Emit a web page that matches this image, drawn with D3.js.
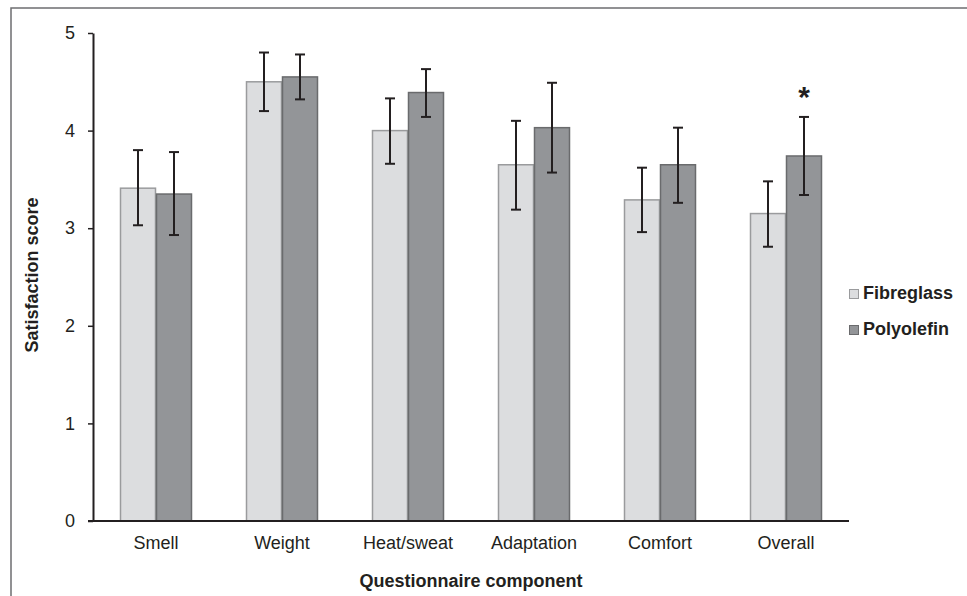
<!DOCTYPE html>
<html>
<head>
<meta charset="utf-8">
<script src="https://cdn.jsdelivr.net/npm/d3@7"></script>
<style>
  html, body { margin: 0; padding: 0; background: #fff; }
  svg { display: block; font-family: "Liberation Sans", Arial, sans-serif; }
</style>
</head>
<body>
<svg id="chart" width="967" height="596"></svg>
<script>
const categories = ["Smell", "Weight", "Heat/sweat", "Adaptation", "Comfort", "Overall"];
const seriesNames = ["Fibreglass", "Polyolefin"];
const fibreglassMean = [3.41, 4.50, 4.00, 3.65, 3.29, 3.15];
const fibreglassLow  = [3.03, 4.20, 3.66, 3.19, 2.96, 2.81];
const fibreglassHigh = [3.80, 4.80, 4.33, 4.10, 3.62, 3.48];
const polyolefinMean = [3.35, 4.55, 4.39, 4.03, 3.65, 3.74];
const polyolefinLow  = [2.93, 4.32, 4.14, 3.57, 3.26, 3.34];
const polyolefinHigh = [3.78, 4.78, 4.63, 4.49, 4.03, 4.14];
const yTicks = [0, 1, 2, 3, 4, 5];
const significant = ["Overall"];

const fills = { Fibreglass: "#dcdddf", Polyolefin: "#939598" };
const strokes = { Fibreglass: "#9a9b9d", Polyolefin: "#6a6b6d" };

const svg = d3.select("#chart");
const plotLeft = 93, plotRight = 849, plotTop = 33, plotBottom = 521;
const FONT = "Liberation Sans, Arial, sans-serif";

// frame
svg.append("rect").attr("x", 11).attr("y", 8).attr("width", 1000).attr("height", 1000)
  .attr("fill", "none").attr("stroke", "#6d6e70").attr("stroke-width", 1.5);

const x0 = d3.scaleBand().domain(categories).range([plotLeft, plotRight])
  .paddingInner(3/7).paddingOuter(3/14);
const x1 = d3.scaleBand().domain(seriesNames).range([0, x0.bandwidth()]);
const y = d3.scaleLinear().domain([0, 5]).range([plotBottom, plotTop]);

const rows = categories.map((c, i) => ({
  cat: c,
  items: [
    { s: "Fibreglass", v: fibreglassMean[i], lo: fibreglassLow[i], hi: fibreglassHigh[i] },
    { s: "Polyolefin", v: polyolefinMean[i], lo: polyolefinLow[i], hi: polyolefinHigh[i] }
  ]
}));

const g = svg.append("g");
const groups = g.selectAll("g.cat").data(rows).join("g")
  .attr("transform", d => `translate(${x0(d.cat)},0)`);

groups.selectAll("rect").data(d => d.items).join("rect")
  .attr("x", d => x1(d.s) + 0.5)
  .attr("y", d => y(d.v))
  .attr("width", x1.bandwidth() - 1)
  .attr("height", d => y(0) - y(d.v))
  .attr("fill", d => fills[d.s])
  .attr("stroke", d => strokes[d.s])
  .attr("stroke-width", 1.5);

const eb = groups.selectAll("g.err").data(d => d.items).join("g")
  .attr("stroke", "#231f20").attr("stroke-width", 2);
eb.append("line")
  .attr("x1", d => x1(d.s) + x1.bandwidth() / 2)
  .attr("x2", d => x1(d.s) + x1.bandwidth() / 2)
  .attr("y1", d => y(d.lo)).attr("y2", d => y(d.hi));
eb.append("line")
  .attr("x1", d => x1(d.s) + x1.bandwidth() / 2 - 5)
  .attr("x2", d => x1(d.s) + x1.bandwidth() / 2 + 5)
  .attr("y1", d => y(d.hi)).attr("y2", d => y(d.hi));
eb.append("line")
  .attr("x1", d => x1(d.s) + x1.bandwidth() / 2 - 5)
  .attr("x2", d => x1(d.s) + x1.bandwidth() / 2 + 5)
  .attr("y1", d => y(d.lo)).attr("y2", d => y(d.lo));

// significance asterisk
rows.filter(r => significant.includes(r.cat)).forEach(r => {
  const it = r.items[1];
  g.append("text")
    .attr("x", x0(r.cat) + x1(it.s) + x1.bandwidth() / 2)
    .attr("y", y(it.hi) - 10)
    .attr("text-anchor", "middle")
    .attr("font-size", 30).attr("font-weight", "bold").attr("fill", "#231f20")
    .attr("font-family", FONT)
    .text("*");
});

// y axis
const yAxis = svg.append("g").attr("transform", `translate(${plotLeft},0)`)
  .call(d3.axisLeft(y).tickValues(yTicks).tickFormat(d3.format("d")).tickSize(5).tickSizeOuter(0).tickPadding(13));
yAxis.select(".domain").attr("stroke", "#231f20").attr("stroke-width", 2);
yAxis.selectAll(".tick line").attr("stroke", "#231f20").attr("stroke-width", 1.5);
yAxis.selectAll(".tick text").attr("font-size", 18).attr("fill", "#231f20")
  .attr("font-family", FONT);

// x axis
const xAxis = svg.append("g").attr("transform", `translate(0,${plotBottom})`)
  .call(d3.axisBottom(x0).tickSize(0).tickPadding(15));
xAxis.select(".domain").attr("stroke", "#231f20").attr("stroke-width", 2)
  .attr("d", `M${plotLeft - 5},0H${plotRight}`);
xAxis.selectAll(".tick text").attr("font-size", 18).attr("fill", "#231f20")
  .attr("font-family", FONT);

// axis titles
svg.append("text")
  .attr("x", (plotLeft + plotRight) / 2).attr("y", 587)
  .attr("text-anchor", "middle").attr("font-size", 18).attr("font-weight", "bold").attr("fill", "#231f20")
  .attr("font-family", FONT)
  .text("Questionnaire component");
svg.append("text")
  .attr("transform", "translate(38,275) rotate(-90)")
  .attr("text-anchor", "middle").attr("font-size", 18).attr("font-weight", "bold").attr("fill", "#231f20")
  .attr("font-family", FONT)
  .text("Satisfaction score");

// legend
const legend = svg.append("g").selectAll("g").data(seriesNames).join("g")
  .attr("transform", (d, i) => `translate(849,${289 + i * 36})`);
legend.append("rect").attr("x", 0.5).attr("y", 0.5).attr("width", 9).attr("height", 9)
  .attr("fill", d => fills[d]).attr("stroke", d => strokes[d]).attr("stroke-width", 1);
legend.append("text").attr("x", 14).attr("y", 10)
  .attr("font-size", 18).attr("font-weight", "bold").attr("fill", "#231f20")
  .attr("font-family", FONT)
  .text(d => d);
</script>
</body>
</html>
